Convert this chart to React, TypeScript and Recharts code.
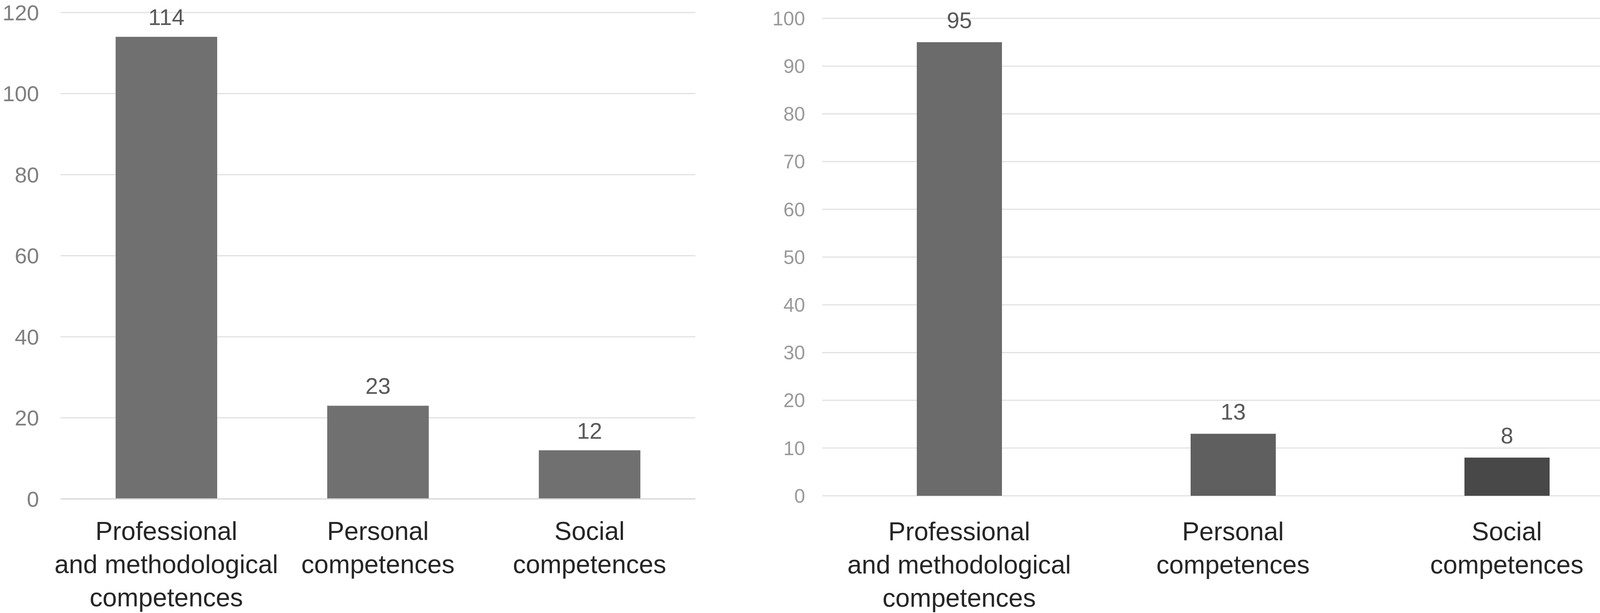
import React from "react";
import { BarChart, Bar, XAxis, YAxis, CartesianGrid, LabelList, Cell } from "recharts";

const categories = [
  "Professional\nand methodological\ncompetences",
  "Personal\ncompetences",
  "Social\ncompetences",
];
const leftValues = [114, 23, 12];
const rightValues = [95, 13, 8];
const leftTicks = [0, 20, 40, 60, 80, 100, 120];
const rightTicks = [0, 10, 20, 30, 40, 50, 60, 70, 80, 90, 100];
const boundaryTicks = [0, 1, 2, 3];

const leftData = categories.map((name, i) => ({ name, value: leftValues[i] }));
const rightData = categories.map((name, i) => ({ name, value: rightValues[i] }));

const rightFills = ["#6b6b6b", "#5f5f5f", "#484848"];
const FONT = "'Liberation Sans', Arial, Helvetica, sans-serif";
const GRID = "#e2e2e2";

function CategoryTick(props: any) {
  const { x, y, payload, baseline } = props;
  const lines = String(payload.value).split("\n");
  return (
    <text x={x} y={y + baseline} textAnchor="middle" fill="#262626" fontSize={66} fontFamily={FONT}>
      {lines.map((l, i) => (
        <tspan key={i} x={x} dy={i === 0 ? 0 : 85}>
          {l}
        </tspan>
      ))}
    </text>
  );
}

export default function App() {
  return (
    <div style={{ position: "absolute", left: 0, top: 0, width: 4212, height: 1569, background: "#fff", fontFamily: FONT }}>
      <div style={{ position: "absolute", left: 0, top: 0 }}>
        <BarChart width={1800} height={1569} data={leftData} margin={{ top: 32, right: 20, left: 0, bottom: 0 }}>
          <CartesianGrid horizontal vertical={false} stroke={GRID} strokeWidth={3} />
          <XAxis
            xAxisId="b"
            dataKey="name"
            height={274}
            interval={0}
            axisLine={false}
            tickLine={false}
            tickSize={0}
            tickMargin={0}
            tick={(p: any) => <CategoryTick {...p} baseline={87} />}
          />
          <XAxis
            xAxisId="a"
            type="number"
            domain={[0, 3]}
            ticks={boundaryTicks}
            allowDataOverflow
            height={18}
            tick={false}
            tickSize={18}
            axisLine={{ stroke: "#d9d9d9", strokeWidth: 3 }}
            tickLine={{ stroke: "#d9d9d9", strokeWidth: 3 }}
          />
          <YAxis
            width={155}
            domain={[0, 120]}
            ticks={leftTicks}
            interval={0}
            axisLine={false}
            tickLine={false}
            tickSize={0}
            tickMargin={55}
            tick={{ fill: "#7f7f7f", fontSize: 56 }}
          />
          <Bar xAxisId="b" dataKey="value" fill="#707070" barSize={260} isAnimationActive={false}>
            <LabelList dataKey="value" position="top" offset={30} fill="#595959" fontSize={58} />
          </Bar>
        </BarChart>
      </div>
      <div style={{ position: "absolute", left: 1880, top: 0 }}>
        <BarChart width={2332} height={1569} data={rightData} margin={{ top: 47, right: 4, left: 0, bottom: 0 }}>
          <CartesianGrid horizontal vertical={false} stroke={GRID} strokeWidth={3} />
          <XAxis
            dataKey="name"
            height={300}
            interval={0}
            axisLine={false}
            tickLine={false}
            tickSize={0}
            tickMargin={0}
            tick={(p: any) => <CategoryTick {...p} baseline={114} />}
          />
          <YAxis
            width={225}
            domain={[0, 100]}
            ticks={rightTicks}
            interval={0}
            axisLine={false}
            tickLine={false}
            tickSize={0}
            tickMargin={44}
            tick={{ fill: "#9a9a9a", fontSize: 50 }}
          />
          <Bar dataKey="value" barSize={218} isAnimationActive={false}>
            {rightData.map((d, i) => (
              <Cell key={d.name} fill={rightFills[i]} />
            ))}
            <LabelList dataKey="value" position="top" offset={36} fill="#595959" fontSize={58} />
          </Bar>
        </BarChart>
      </div>
    </div>
  );
}
